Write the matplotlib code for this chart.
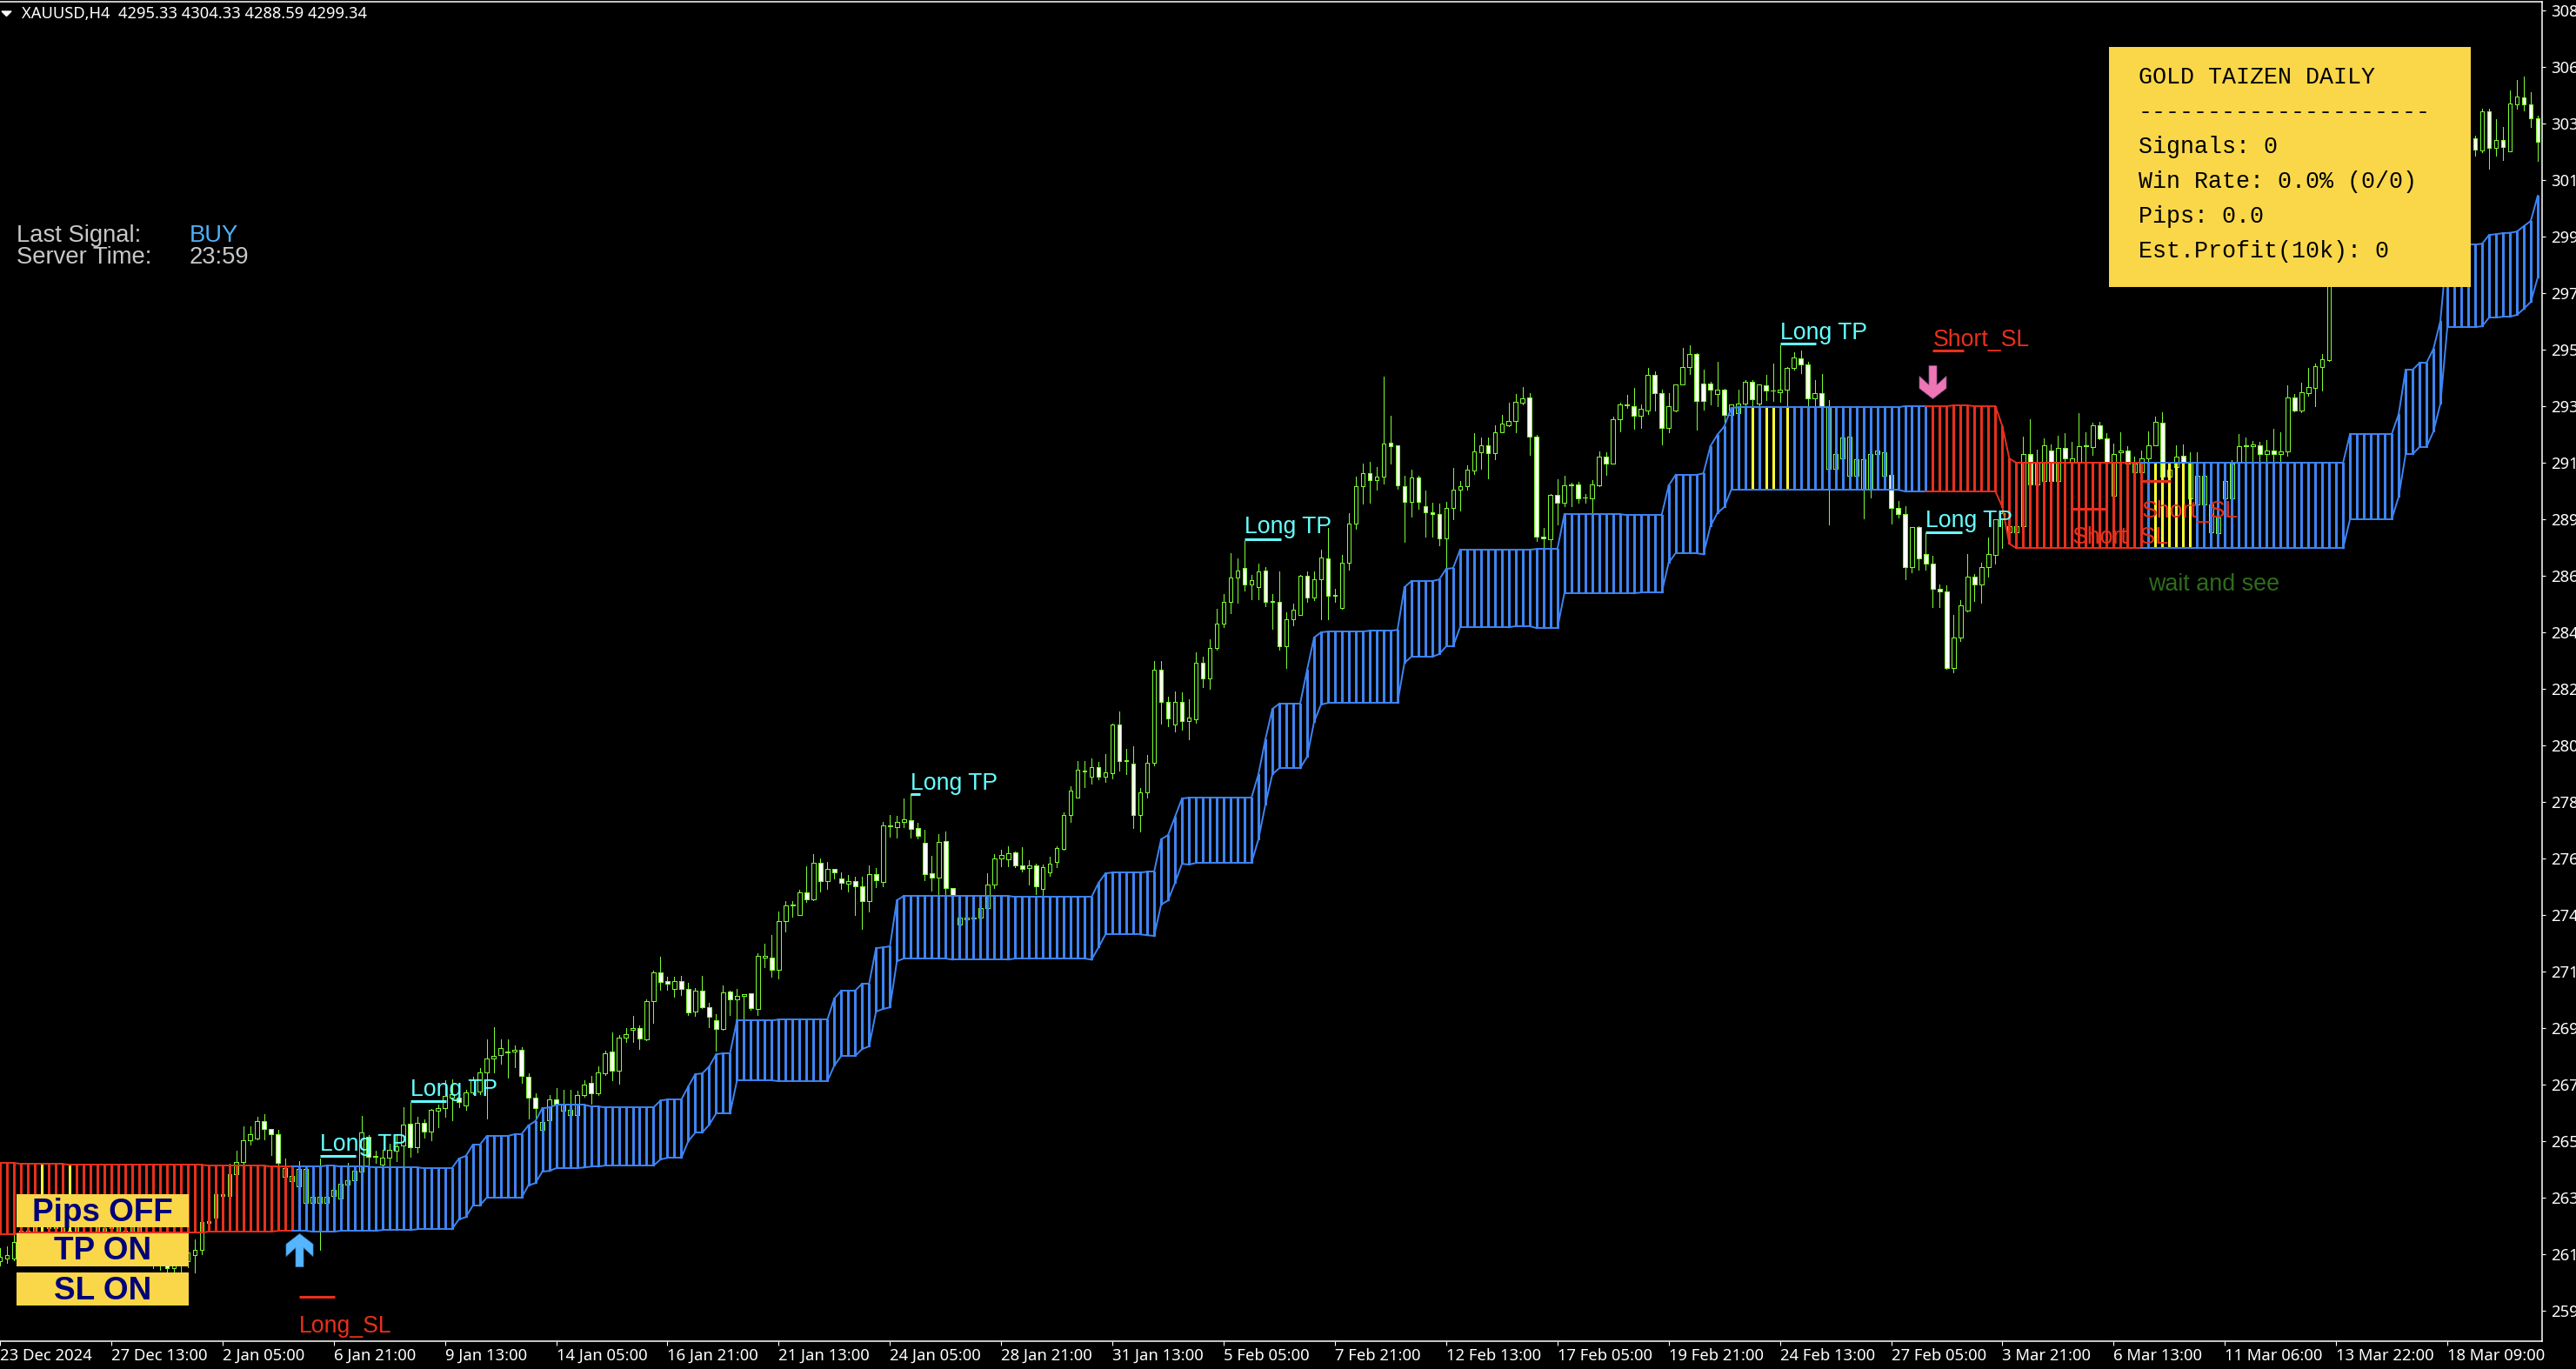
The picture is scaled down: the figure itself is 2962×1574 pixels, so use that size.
import numpy as np
import matplotlib
matplotlib.use('Agg')
import matplotlib.pyplot as plt
from matplotlib.patches import Rectangle, Polygon
from matplotlib.path import Path

# candles, one value per 4h bar
opens = [
    2610.5,2611.5,2611.5,2617.7,2622.0,2618.7,2625.3,2628.6,2623.0,2627.6,
    2622.0,2618.7,2625.3,2628.6,2624.3,2620.4,2623.0,2626.9,2622.0,2618.7,
    2624.3,2621.0,2615.4,2611.2,2612.2,2607.9,2610.5,2610.5,2612.8,2614.8,
    2625.0,2626.9,2635.1,2635.1,2643.3,2647.9,2656.1,2656.8,2663.3,2660.3,
    2658.4,2642.3,2640.7,2638.7,2632.5,2632.5,2632.5,2632.5,2635.1,2634.1,
    2639.4,2641.0,2644.3,2657.4,2650.2,2646.9,2649.5,2652.2,2654.1,2662.3,
    2653.5,2662.6,2659.4,2667.2,2668.2,2672.1,2672.1,2669.2,2674.1,2674.4,
    2681.6,2686.9,2688.2,2689.2,2689.5,2690.2,2680.0,2672.1,2660.0,2663.6,
    2671.5,2667.2,2665.6,2665.6,2673.1,2677.7,2673.8,2681.3,2689.5,2682.3,
    2694.7,2697.8,2698.4,2694.1,2708.5,2719.3,2716.0,2713.1,2716.0,2713.1,
    2704.6,2712.4,2706.2,2701.3,2698.0,2712.1,2709.2,2710.5,2711.5,2705.6,
    2724.9,2724.9,2720.3,2738.7,2744.6,2740.9,2749.5,2746.9,2760.6,2753.7,
    2758.3,2754.7,2752.7,2753.7,2751.8,2746.2,2756.4,2753.4,2774.4,2774.0,
    2776.0,2776.7,2773.7,2768.2,2756.7,2755.0,2768.8,2751.1,2737.4,2739.3,
    2739.7,2740.0,2743.6,2752.4,2762.3,2761.9,2764.5,2759.6,2758.6,2759.6,
    2750.8,2757.0,2760.9,2765.9,2778.6,2785.2,2795.0,2793.1,2796.7,2793.1,
    2794.4,2812.7,2799.3,2797.9,2778.6,2787.2,2798.3,2833.4,2821.2,2812.7,
    2821.2,2814.0,2814.7,2836.0,2830.1,2841.6,2850.7,2858.9,2868.1,2871.7,
    2865.5,2864.5,2870.7,2859.2,2858.9,2842.2,2852.4,2854.0,2868.8,2860.6,
    2867.4,2875.3,2861.6,2856.6,2873.7,2888.4,2902.5,2907.4,2904.8,2906.1,
    2918.9,2917.9,2902.5,2896.6,2905.8,2895.0,2892.6,2892.0,2882.8,2894.3,
    2901.2,2902.5,2908.4,2915.3,2917.9,2914.9,2922.8,2925.4,2927.1,2934.0,
    2935.9,2921.2,2883.5,2882.5,2899.2,2896.3,2902.9,2903.2,2898.2,2897.9,
    2902.8,2913.7,2911.0,2927.7,2933.1,2932.7,2929.1,2931.0,2944.5,2937.6,
    2924.5,2931.0,2940.9,2947.4,2952.3,2941.2,2941.2,2937.2,2938.9,2929.4,
    2930.0,2933.6,2941.8,2933.6,2940.5,2938.6,2937.9,2938.9,2947.1,2950.7,
    2948.4,2935.6,2937.6,2909.1,2909.1,2913.0,2906.4,2906.4,2901.2,2901.2,
    2914.6,2906.4,2906.8,2894.3,2892.0,2872.0,2887.1,2876.9,2873.3,2863.8,
    2862.9,2834.0,2845.5,2855.6,2868.4,2865.5,2872.0,2876.6,2890.1,2885.1,
    2885.1,2887.4,2914.6,2903.2,2904.5,2915.9,2904.5,2916.9,2911.4,2911.4,
    2917.6,2917.3,2925.5,2920.5,2898.9,2915.3,2915.9,2907.7,2907.7,2913.0,
    2917.9,2926.4,2906.1,2909.7,2914.0,2897.9,2895.6,2895.6,2885.1,2884.8,
    2897.9,2897.9,2911.4,2917.6,2917.6,2917.9,2914.6,2915.9,2914.6,2915.6,
    2935.9,2931.0,2937.6,2939.6,2947.4,2950.0,2987.4,2982.0,2991.0,2997.0,
    2990.0,3003.0,3010.0,3004.0,3015.0,3021.0,3015.0,3023.0,3029.0,3024.0,
    3031.0,3026.0,3033.0,3028.0,3032.0,3028.0,3033.6,3029.0,3043.9,3030.0,
    3032.9,3028.7,3046.4,3049.0,3046.4,3041.1]
highs = [
    2615.5,2616.1,2620.4,2623.6,2624.3,2627.6,2630.8,2631.8,2630.2,2629.5,
    2625.3,2628.6,2630.8,2630.2,2626.2,2625.3,2629.5,2628.6,2624.3,2626.9,
    2626.2,2623.0,2617.7,2613.8,2613.8,2612.5,2613.8,2615.4,2618.7,2625.9,
    2625.9,2635.8,2636.1,2647.2,2652.1,2661.3,2661.3,2664.9,2665.9,2660.3,
    2660.0,2649.2,2643.3,2648.2,2646.6,2634.8,2649.2,2635.1,2637.4,2639.7,
    2647.6,2644.6,2665.3,2658.1,2652.1,2652.5,2654.8,2658.1,2668.5,2670.2,
    2664.9,2663.9,2667.9,2669.5,2678.7,2679.0,2675.4,2675.1,2680.0,2683.3,
    2694.1,2698.7,2694.1,2694.1,2691.8,2691.1,2681.3,2673.8,2662.9,2673.1,
    2675.8,2675.1,2675.1,2674.8,2678.7,2680.3,2683.9,2689.9,2696.7,2695.7,
    2698.4,2702.9,2699.4,2709.2,2720.0,2725.2,2717.7,2717.7,2718.0,2715.4,
    2713.4,2718.0,2707.9,2703.6,2714.4,2712.4,2713.1,2711.1,2711.5,2726.5,
    2730.1,2733.4,2742.3,2746.2,2746.2,2750.5,2759.3,2763.9,2762.3,2760.9,
    2758.3,2757.0,2756.0,2755.4,2755.4,2759.6,2758.6,2775.9,2778.6,2778.3,
    2784.9,2786.5,2775.7,2773.1,2763.2,2771.4,2772.4,2751.1,2740.0,2740.0,
    2740.3,2743.6,2756.7,2763.9,2765.5,2766.8,2764.9,2766.5,2761.6,2760.3,
    2759.9,2762.9,2766.8,2779.6,2789.5,2798.9,2798.9,2799.9,2798.6,2801.6,
    2813.0,2817.6,2803.5,2804.5,2788.8,2801.2,2836.6,2836.6,2823.2,2825.2,
    2824.9,2822.2,2839.9,2838.3,2844.8,2856.3,2861.9,2877.3,2875.3,2881.9,
    2869.1,2873.4,2872.0,2861.9,2870.4,2855.0,2858.3,2869.1,2870.4,2870.4,
    2878.6,2886.8,2863.9,2876.6,2892.4,2906.1,2911.0,2911.7,2909.7,2943.8,
    2929.1,2917.9,2906.4,2908.7,2906.4,2900.9,2896.3,2895.9,2896.6,2909.4,
    2904.5,2910.4,2922.5,2920.9,2920.9,2925.5,2929.4,2934.0,2937.3,2939.9,
    2937.6,2921.9,2886.8,2899.6,2905.1,2906.4,2903.8,2904.2,2899.6,2904.8,
    2915.6,2915.3,2928.7,2933.9,2936.9,2939.5,2933.3,2947.1,2945.8,2938.9,
    2937.6,2940.9,2954.6,2955.6,2952.7,2946.4,2941.8,2949.4,2939.2,2933.3,
    2938.9,2942.5,2942.5,2940.9,2944.5,2948.7,2955.6,2947.4,2953.0,2953.6,
    2949.4,2942.5,2944.8,2934.9,2914.6,2920.9,2921.2,2912.7,2912.7,2914.6,
    2915.9,2915.3,2906.8,2896.9,2895.0,2887.1,2887.4,2884.8,2876.3,2865.5,
    2865.2,2854.0,2859.6,2876.9,2869.4,2873.7,2883.2,2890.1,2898.9,2887.4,
    2887.4,2921.2,2927.7,2916.3,2920.5,2918.2,2921.5,2922.5,2919.2,2930.0,
    2922.8,2926.4,2926.7,2922.5,2918.6,2922.8,2917.6,2913.7,2915.9,2923.2,
    2928.7,2930.4,2908.7,2917.9,2918.2,2915.3,2915.3,2906.4,2895.6,2890.7,
    2904.5,2912.3,2922.2,2920.9,2919.6,2919.2,2919.9,2924.2,2922.8,2940.5,
    2937.2,2941.5,2947.1,2948.7,2952.3,2990.7,2990.0,2994.0,3000.0,2999.0,
    3006.0,3013.0,3012.0,3018.0,3024.0,3023.0,3026.0,3032.0,3031.0,3034.0,
    3033.0,3036.0,3036.0,3035.0,3034.0,3034.0,3034.6,3044.7,3044.7,3040.8,
    3037.9,3051.6,3055.6,3056.9,3051.0,3042.1]
lows = [
    2608.9,2609.9,2610.9,2616.4,2617.0,2617.7,2623.0,2621.0,2620.4,2619.7,
    2616.4,2617.7,2623.0,2622.0,2617.7,2618.7,2622.0,2620.4,2616.4,2617.7,
    2618.7,2612.2,2607.9,2607.3,2606.6,2606.6,2606.6,2608.2,2606.3,2613.2,
    2624.3,2626.9,2634.8,2635.1,2643.3,2646.6,2654.4,2656.4,2656.4,2650.5,
    2646.6,2642.3,2640.7,2638.7,2632.5,2632.5,2614.8,2632.5,2635.1,2634.1,
    2639.4,2641.0,2643.3,2644.9,2647.6,2646.6,2645.9,2648.2,2646.6,2649.9,
    2651.5,2657.1,2656.1,2660.9,2664.9,2663.6,2668.5,2667.6,2673.4,2673.4,
    2664.3,2681.6,2684.9,2679.7,2683.6,2677.7,2664.3,2660.0,2660.0,2663.6,
    2668.9,2667.2,2665.6,2665.6,2672.4,2669.8,2673.1,2680.6,2678.7,2677.4,
    2693.1,2693.1,2690.5,2693.8,2700.3,2712.8,2712.8,2710.2,2710.8,2703.3,
    2702.9,2705.9,2698.7,2689.8,2697.7,2703.3,2701.3,2701.6,2705.2,2703.3,
    2721.3,2717.7,2717.0,2734.7,2740.3,2740.9,2745.9,2746.5,2749.8,2750.8,
    2754.7,2750.8,2749.8,2740.9,2735.7,2742.3,2751.5,2751.8,2770.4,2770.1,
    2774.0,2770.1,2769.8,2754.1,2750.1,2748.2,2748.2,2737.4,2737.4,2739.3,
    2739.7,2740.0,2743.2,2751.1,2759.3,2759.3,2759.0,2757.3,2752.4,2748.8,
    2748.2,2755.7,2759.0,2765.5,2776.0,2785.2,2789.1,2790.4,2792.1,2791.1,
    2792.4,2795.4,2794.0,2773.7,2772.4,2785.2,2797.3,2813.0,2812.0,2810.1,
    2810.8,2807.1,2813.4,2826.8,2826.2,2840.9,2849.4,2854.7,2858.6,2863.2,
    2859.9,2859.9,2857.3,2848.8,2840.9,2834.0,2850.1,2854.0,2858.9,2859.6,
    2852.4,2852.4,2858.9,2856.3,2871.0,2886.5,2895.9,2896.3,2901.2,2903.5,
    2911.0,2901.5,2881.5,2891.0,2894.0,2883.5,2883.5,2880.2,2871.7,2890.1,
    2893.3,2901.2,2907.1,2909.1,2905.5,2912.7,2922.8,2925.1,2922.8,2933.3,
    2914.3,2881.9,2879.3,2879.3,2888.1,2895.0,2895.0,2896.3,2896.3,2892.4,
    2902.5,2906.8,2911.0,2923.2,2932.0,2924.2,2924.5,2929.7,2931.0,2918.2,
    2922.8,2930.7,2940.9,2944.8,2923.8,2931.4,2933.3,2932.7,2925.1,2928.4,
    2930.0,2932.3,2932.3,2932.3,2934.9,2934.6,2934.3,2932.3,2946.4,2945.1,
    2933.0,2932.7,2931.7,2888.1,2909.1,2913.0,2906.4,2906.4,2890.4,2898.3,
    2914.6,2906.4,2888.4,2890.7,2867.4,2870.1,2871.0,2871.0,2856.9,2856.9,
    2833.7,2832.4,2844.2,2855.3,2859.2,2858.6,2868.4,2873.3,2879.3,2885.1,
    2885.1,2887.4,2902.8,2903.2,2904.5,2904.5,2904.5,2910.4,2906.4,2906.4,
    2912.0,2914.3,2920.2,2898.9,2898.9,2911.4,2911.0,2907.7,2907.7,2909.7,
    2917.9,2906.1,2906.1,2909.7,2911.4,2897.9,2895.6,2895.6,2885.1,2884.8,
    2897.9,2897.9,2911.4,2911.4,2911.4,2911.4,2911.4,2911.4,2911.4,2914.0,
    2930.7,2930.4,2936.6,2932.7,2938.6,2949.7,2978.0,2980.0,2988.0,2986.0,
    2988.0,3000.0,3001.0,3002.0,3012.0,3012.0,3013.0,3020.0,3021.0,3022.0,
    3023.0,3024.0,3026.0,3026.0,3025.0,3026.0,3027.0,3028.4,3022.1,3027.0,
    3025.4,3028.7,3044.7,3044.1,3037.9,3025.1]
closes = [
    2612.2,2612.8,2617.7,2622.0,2618.7,2625.3,2628.6,2623.0,2627.6,2622.0,
    2618.7,2625.3,2628.6,2624.3,2620.4,2623.0,2626.9,2622.0,2618.7,2624.3,
    2621.0,2615.4,2612.2,2609.9,2607.9,2610.5,2612.2,2613.8,2614.8,2625.3,
    2625.6,2635.8,2635.8,2643.3,2647.9,2656.1,2658.4,2663.3,2660.3,2658.4,
    2647.6,2645.6,2642.6,2645.3,2645.3,2634.8,2634.8,2634.8,2637.4,2639.7,
    2641.0,2644.6,2659.0,2649.9,2649.9,2649.5,2652.5,2653.8,2662.0,2653.5,
    2662.6,2659.4,2667.6,2668.2,2672.8,2673.4,2670.5,2674.1,2678.7,2681.6,
    2686.9,2687.9,2690.8,2689.6,2690.2,2680.3,2672.1,2668.2,2662.9,2671.5,
    2669.5,2669.5,2667.6,2673.1,2677.0,2673.8,2681.6,2688.9,2682.3,2694.7,
    2696.1,2698.4,2694.4,2708.5,2719.3,2715.7,2715.1,2716.0,2713.1,2704.2,
    2712.4,2706.2,2702.6,2698.0,2711.8,2709.2,2710.5,2711.1,2705.9,2725.5,
    2725.5,2720.3,2738.7,2744.6,2744.9,2749.5,2746.9,2760.6,2753.7,2758.3,
    2757.0,2753.1,2753.7,2751.8,2746.2,2756.4,2754.1,2774.7,2774.7,2776.0,
    2777.0,2773.4,2770.8,2756.4,2755.0,2768.5,2751.1,2748.2,2740.0,2740.0,
    2740.0,2743.6,2752.4,2762.3,2763.6,2764.2,2759.6,2758.3,2759.6,2751.8,
    2759.0,2760.3,2766.2,2778.6,2787.8,2795.7,2795.4,2796.7,2793.1,2794.7,
    2812.7,2799.0,2798.9,2778.6,2787.2,2798.3,2833.4,2821.2,2815.0,2821.2,
    2814.0,2815.3,2836.0,2830.1,2841.6,2850.7,2858.9,2868.1,2870.7,2865.5,
    2867.1,2870.4,2858.9,2858.9,2842.2,2852.4,2856.0,2868.8,2860.6,2867.4,
    2875.6,2861.2,2861.2,2873.7,2888.4,2902.5,2907.4,2904.8,2906.1,2918.6,
    2917.6,2902.8,2896.6,2905.8,2896.6,2892.7,2892.2,2882.8,2894.3,2901.2,
    2902.5,2908.7,2915.6,2917.9,2914.9,2922.8,2926.1,2927.1,2934.3,2935.6,
    2921.2,2883.5,2882.8,2899.2,2896.3,2902.8,2903.1,2897.9,2898.2,2903.2,
    2913.7,2911.0,2927.7,2933.3,2933.3,2929.1,2931.7,2944.5,2937.6,2924.5,
    2932.7,2940.9,2947.4,2952.3,2934.6,2934.6,2938.9,2938.9,2929.4,2933.3,
    2933.6,2941.8,2935.3,2940.9,2938.6,2938.5,2938.9,2947.1,2951.0,2948.4,
    2935.6,2937.6,2932.3,2932.3,2914.6,2920.9,2921.2,2912.7,2912.7,2914.6,
    2915.9,2915.3,2894.3,2892.0,2872.0,2887.1,2875.3,2873.3,2863.8,2862.9,
    2834.0,2845.5,2857.6,2868.4,2865.5,2872.0,2876.9,2890.1,2892.4,2887.4,
    2887.4,2914.6,2903.2,2911.4,2917.9,2904.5,2916.9,2913.0,2913.0,2917.6,
    2917.8,2925.5,2920.5,2911.4,2914.6,2915.9,2911.0,2911.0,2913.0,2917.9,
    2926.8,2906.1,2908.7,2913.7,2911.4,2911.4,2906.4,2906.4,2895.6,2890.7,
    2904.5,2911.0,2917.6,2917.8,2918.2,2914.6,2915.9,2914.6,2915.6,2935.9,
    2931.0,2937.9,2939.9,2947.7,2950.4,2987.4,2982.0,2991.0,2997.0,2990.0,
    3003.0,3010.0,3004.0,3015.0,3021.0,3015.0,3023.0,3029.0,3024.0,3031.0,
    3026.0,3033.0,3028.0,3032.0,3028.0,3032.0,3029.3,3043.9,3030.0,3032.9,
    3030.3,3046.7,3049.3,3046.4,3041.1,3032.3]

# cloud edges as (price, how many bars it stays there)
upper_runs = [
    (2647.6,3),(2647.2,7),(2646.9,20),(2646.6,9),(2646.2,8),(2646.6,2),(2646.2,5),(2645.9,7),(2645.6,5),
    (2649.2,1),(2650.2,1),(2654.4,2),(2657.7,4),(2658.4,2),(2661.7,1),(2663.3,1),(2668.2,1),(2668.5,1),
    (2669.5,5),(2668.9,2),(2668.5,8),(2671.1,1),(2671.5,3),(2676.4,1),(2681.0,1),(2681.3,1),(2683.9,1),
    (2688.5,1),(2688.9,2),(2701.3,6),(2701.6,8),(2709.5,1),(2712.5,3),(2715.1,2),(2728.5,1),(2728.8,1),
    (2729.2,1),(2746.5,1),(2748.2,16),(2747.8,12),(2753.1,1),(2756.7,1),(2757.0,5),(2757.3,2),(2769.5,1),
    (2771.1,1),(2778.0,1),(2784.9,1),(2785.2,10),(2794.0,1),(2807.2,1),(2818.6,1),(2820.6,4),(2833.4,1),
    (2845.5,1),(2847.5,1),(2847.8,6),(2848.1,4),(2848.4,1),(2864.5,1),(2866.8,4),(2867.4,1),(2871.4,1),
    (2871.7,1),(2878.6,11),(2878.9,4),(2892.0,9),(2891.7,6),(2902.8,1),(2906.8,4),(2907.4,1),(2917.6,1),
    (2921.9,1),(2925.1,1),(2932.0,1),(2932.3,24),(2932.7,7),(2933.0,3),(2932.7,4),(2925.1,1),(2913.0,1),
    (2911.4,48),(2922.2,7),(2929.7,1),(2946.4,2),(2949.0,2),(2954.3,1),(2964.8,1),(2993.6,5),(2993.9,1),
    (2997.2,1),(2997.5,1),(2997.9,1),(2998.0,1),(2998.5,1),(3000.5,1),(3002.5,1),(3012.0,1)]
lower_runs = [
    (2620.7,3),(2621.3,27),(2621.7,10),(2622.0,5),(2621.7,4),(2622.0,6),(2622.3,5),(2622.6,6),
    (2626.3,1),(2627.2,1),(2631.5,2),(2634.5,6),(2639.1,1),(2640.0,1),(2644.3,1),(2644.6,1),(2645.6,4),
    (2645.9,1),(2646.2,2),(2646.6,8),(2648.9,1),(2649.5,3),(2655.8,1),(2659.0,2),(2662.0,1),(2666.2,3),
    (2678.7,6),(2678.4,8),(2684.3,1),(2687.9,3),(2690.5,1),(2691.5,1),(2704.6,1),(2705.6,1),(2706.2,1),
    (2723.6,1),(2724.6,7),(2724.2,9),(2724.6,11),(2724.2,1),(2728.8,1),(2733.7,6),(2733.4,1),(2733.1,1),
    (2744.9,1),(2746.5,1),(2753.1,1),(2760.3,1),(2760.0,1),(2760.6,9),(2769.5,1),(2782.6,1),(2794.0,1),
    (2796.3,4),(2800.6,1),(2813.7,1),(2820.3,1),(2820.9,11),(2836.0,1),(2838.3,4),(2839.3,1),(2842.2,2),
    (2849.4,8),(2849.8,3),(2849.1,4),(2862.2,11),(2862.5,4),(2873.7,1),(2877.3,4),(2876.9,1),(2887.4,1),
    (2892.4,1),(2894.7,1),(2901.2,25),(2900.6,14),(2894.7,1),(2880.9,1),(2879.2,48),(2890.1,7),(2898.6,1),
    (2914.6,2),(2917.3,2),(2923.2,1),(2933.6,1),(2962.5,5),(2962.8,1),(2966.1,2),(2966.4,2),(2967.1,1),
    (2969.4,1),(2972.0,1),(2981.2,1)]
red_bars = [(0, 42), (278, 308)]
yellow_bars = [6, 10, 252, 254, 255, 257, 310, 311, 312, 313, 314, 315]

price_ticks = [2591.9 + 21.3 * k for k in range(24)]
price_labels = ['259', '261', '263', '265', '267', '269', '271', '274', '276', '278', '280', '282',
                '284', '286', '289', '291', '293', '295', '297', '299', '301', '303', '306', '308']
time_ticks = list(range(0, 353, 16))
time_labels = ['23 Dec 2024', '27 Dec 13:00', '2 Jan 05:00', '6 Jan 21:00', '9 Jan 13:00', '14 Jan 05:00',
               '16 Jan 21:00', '21 Jan 13:00', '24 Jan 05:00', '28 Jan 21:00', '31 Jan 13:00', '5 Feb 05:00',
               '7 Feb 21:00', '12 Feb 13:00', '17 Feb 05:00', '19 Feb 21:00', '24 Feb 13:00', '27 Feb 05:00',
               '3 Mar 21:00', '6 Mar 13:00', '11 Mar 06:00', '13 Mar 22:00', '18 Mar 09:00']

# (first bar, line price, label price)
tp_marks = [(46, 2650.2, 2652.1), (59, 2670.8, 2672.8), (131, 2786.5, 2788.1),
            (179, 2882.5, 2884.8), (256, 2956.3, 2957.9), (277, 2885.1, 2887.1)]
tp_lengths = [5.1, 5.2, 1.3, 5.2, 5.2, 5.2]
sl_marks = [('Long_SL', 43, 2597.1, 2583.7), ('Short_SL', 278, 2953.6, 2955.3),
            ('Short_SL', 298, 2894.0, 2880.9), ('Short_SL', 308, 2904.5, 2890.7)]
sl_lengths = [5.2, 4.4, 4.9, 4.2]
buy_signal = (43, 2614.8)
sell_signal = (278, 2941.8)

panel_lines = ['GOLD TAIZEN DAILY', '---------------------', 'Signals: 0', 'Win Rate: 0.0% (0/0)',
               'Pips: 0.0', 'Est.Profit(10k): 0']
buttons = ['Pips OFF', 'TP ON', 'SL ON']

GREEN = '#7CFC32'
BLUE = '#3E84F2'
RED = '#E8301C'
YELLOW = '#FFFF33'
PANEL = '#FAD748'
CYAN = '#66FFFF'
ARIAL = 'Liberation Sans'
TAHOMA = 'Noto Sans'

assert len(opens) == len(highs) == len(lows) == len(closes) == 366

opens = np.array(opens)
closes = np.array(closes)
bars = np.arange(len(opens))
upper = np.repeat([r[0] for r in upper_runs], [r[1] for r in upper_runs])
lower = np.repeat([r[0] for r in lower_runs], [r[1] for r in lower_runs])
assert len(upper) == len(lower) == 366

W, H = 2962, 1574
fig = plt.figure(figsize=(W / 100, H / 100), dpi=100, facecolor='black')
ax = fig.add_axes([0, (H - 1542) / H, 2923 / W, 1540 / H], facecolor='black')

# candles
ax.vlines(bars, lows, highs, color=GREEN, lw=0.7, antialiased=False, zorder=1)
down = closes < opens
ax.bar(bars[~down], (closes - opens)[~down], bottom=opens[~down], width=0.58, facecolor='black',
       edgecolor=GREEN, lw=0.7, antialiased=False, zorder=2)
ax.bar(bars[down], (opens - closes)[down], bottom=closes[down], width=0.58, facecolor='white',
       edgecolor=GREEN, lw=0.7, antialiased=False, zorder=2)

# cloud hatch, one line per bar
hatch_colors = np.array([BLUE] * len(bars), dtype=object)
for first, last in red_bars:
    hatch_colors[first:last + 1] = RED
hatch_colors[yellow_bars] = YELLOW
ax.vlines(bars, lower, upper, colors=list(hatch_colors), lw=1.85, antialiased=False, zorder=3)

# cloud edges
edge_colors = [BLUE if c == YELLOW else c for c in hatch_colors]
edge_colors[6] = RED
edge_colors[10] = RED
for i in range(len(bars) - 1):
    c = edge_colors[i + 1]
    ax.plot(bars[i:i + 2], upper[i:i + 2], color=c, lw=1.4, zorder=4, solid_capstyle='projecting')
    ax.plot(bars[i:i + 2], lower[i:i + 2], color=c, lw=1.4, zorder=4, solid_capstyle='projecting')

# take profit and stop loss marks
for (bar, line, label), length in zip(tp_marks, tp_lengths):
    ax.hlines(line, bar, bar + length, color=CYAN, lw=2.2, zorder=5)
    ax.text(bar, label, 'Long TP', color=CYAN, family=ARIAL, fontsize=19.2, va='baseline', zorder=6)
for (name, bar, line, label), length in zip(sl_marks, sl_lengths):
    ax.hlines(line, bar, bar + length, color=RED, lw=2.2, zorder=5)
    ax.text(bar, label, name, color=RED, family=ARIAL, fontsize=19.2, va='baseline', zorder=6)
ax.text(309, 2863.2, 'wait and see', color='#2F6C1C', family=ARIAL, fontsize=19.4, va='baseline', zorder=6)

# signal arrows
up_arrow = Path([(0, 19), (15.5, 7), (15.5, -7), (4.5, 3), (4.5, -19), (-4.5, -19), (-4.5, 3),
                 (-15.5, -7), (-15.5, 7), (0, 19)], closed=True)
down_arrow = Path(up_arrow.vertices * [1, -1], closed=True)
ax.plot(*buy_signal, marker=up_arrow, ms=27.4, mfc='#55B6FF', mec='#3A86C8', mew=0.5, zorder=7)
ax.plot(*sell_signal, marker=down_arrow, ms=27.4, mfc='#EE76B4', mec='#8A4A9A', mew=0.5, zorder=7)

ax.set_xlim(0.25, 365.625)
ax.set_ylim(3085.73 - 0.32769 * 1542, 3085.73 - 0.32769 * 2)
ax.yaxis.tick_right()
ax.set_yticks(price_ticks)
ax.set_yticklabels(price_labels, family=TAHOMA, fontsize=13.3, color='white')
ax.set_xticks(time_ticks)
ax.set_xticklabels(time_labels, family=TAHOMA, fontsize=13.3, color='white', ha='left')
ax.tick_params(axis='y', length=3, width=0.8, color='white', pad=4)
ax.tick_params(axis='x', length=3.5, width=0.8, color='white', pad=2)
ax.get_xticklabels()[0].set_clip_on(False)
for name, spine in ax.spines.items():
    spine.set_color('white')
    spine.set_linewidth(1.1)
ax.spines['left'].set_visible(False)

# screen furniture drawn on top, in screen pixels
ui = fig.add_axes([0, 0, 1, 1], facecolor='none')
ui.set_xlim(0, W)
ui.set_ylim(H, 0)
ui.axis('off')

ui.add_patch(Polygon([(2, 13), (13, 13), (7.5, 18.5)], closed=True, color='white'))
ui.text(25, 16, 'XAUUSD,H4  4295.33 4304.33 4288.59 4299.34', color='white', family=TAHOMA,
        fontsize=13.2, va='center')

ui.text(19, 278, 'Last Signal:', color='#C8C8C8', family=ARIAL, fontsize=19.7, va='baseline')
ui.text(218, 278, 'BUY', color='#4FB0F8', family=ARIAL, fontsize=19.7, va='baseline')
ui.text(19, 303, 'Server Time:', color='#C8C8C8', family=ARIAL, fontsize=19.7, va='baseline')
ui.text(218, 303, '23:59', color='#C8C8C8', family=ARIAL, fontsize=19.7, va='baseline')

ui.add_patch(Rectangle((2425, 54), 416, 276, facecolor=PANEL, edgecolor='none'))
for k, line in enumerate(panel_lines):
    ui.text(2459, 89 + 40 * k, line, color='black', family='Liberation Mono', fontsize=19.2,
            va='center')

for k, label in enumerate(buttons):
    top = 1373 + 45 * k
    ui.add_patch(Rectangle((19, top), 198, 38, facecolor=PANEL, edgecolor='none'))
    ui.text(118, top + 21, label, color='#00007A', family=ARIAL, fontsize=26.6, weight='bold',
            ha='center', va='center')

fig.savefig('out.png', dpi=100, facecolor='black')
